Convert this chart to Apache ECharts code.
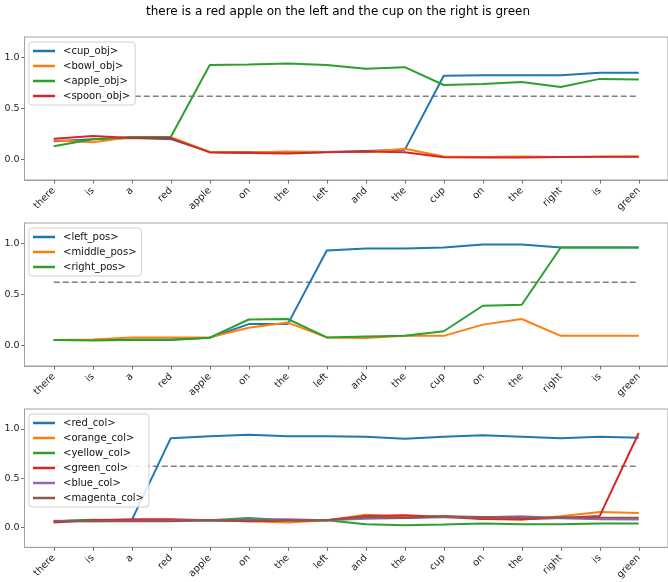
<!DOCTYPE html>
<html>
<head>
<meta charset="utf-8">
<script src="https://cdn.jsdelivr.net/npm/echarts@6/dist/echarts.min.js"></script>
<style>html,body{margin:0;padding:0;background:#fff;}#c{width:668px;height:582px;}</style>
</head>
<body>
<div id="c"></div>
<script>
const titleText = 'there is a red apple on the left and the cup on the right is green';
const words = ['there','is','a','red','apple','on','the','left','and','the','cup','on','the','right','is','green'];
const yTicks = [0, 0.5, 1.0];
const threshold = 0.62;

const cupObj   = [0.18,0.20,0.21,0.20,0.075,0.075,0.065,0.075,0.085,0.095,0.82,0.825,0.825,0.825,0.85,0.85];
const bowlObj  = [0.19,0.17,0.22,0.22,0.075,0.07,0.08,0.075,0.075,0.105,0.03,0.025,0.03,0.025,0.028,0.03];
const appleObj = [0.13,0.20,0.22,0.22,0.925,0.93,0.94,0.925,0.89,0.905,0.73,0.74,0.76,0.71,0.79,0.785];
const spoonObj = [0.205,0.23,0.21,0.21,0.07,0.065,0.06,0.072,0.08,0.072,0.022,0.02,0.02,0.025,0.027,0.027];

const leftPos   = [0.055,0.055,0.06,0.06,0.077,0.21,0.21,0.93,0.95,0.95,0.96,0.99,0.99,0.96,0.96,0.96];
const middlePos = [0.055,0.06,0.08,0.08,0.08,0.175,0.225,0.08,0.075,0.095,0.095,0.205,0.26,0.095,0.095,0.095];
const rightPos  = [0.055,0.05,0.055,0.055,0.077,0.255,0.26,0.08,0.09,0.095,0.14,0.39,0.40,0.96,0.96,0.96];

const redCol     = [0.065,0.075,0.075,0.905,0.925,0.94,0.925,0.925,0.92,0.90,0.92,0.935,0.92,0.905,0.92,0.91];
const orangeCol  = [0.065,0.075,0.075,0.075,0.075,0.065,0.052,0.075,0.13,0.108,0.118,0.09,0.08,0.115,0.157,0.147];
const yellowCol  = [0.065,0.08,0.075,0.075,0.075,0.098,0.075,0.075,0.033,0.023,0.03,0.042,0.033,0.033,0.042,0.042];
const greenCol   = [0.052,0.075,0.085,0.085,0.075,0.065,0.072,0.075,0.118,0.124,0.108,0.088,0.085,0.098,0.118,0.957];
const blueCol    = [0.069,0.065,0.069,0.069,0.075,0.082,0.085,0.075,0.09,0.098,0.105,0.105,0.115,0.095,0.085,0.082];
const magentaCol = [0.065,0.065,0.065,0.065,0.075,0.072,0.075,0.075,0.108,0.098,0.115,0.108,0.098,0.105,0.1,0.1];

const panels = [
  { names: ['<cup_obj>','<bowl_obj>','<apple_obj>','<spoon_obj>'], data: [cupObj, bowlObj, appleObj, spoonObj] },
  { names: ['<left_pos>','<middle_pos>','<right_pos>'], data: [leftPos, middlePos, rightPos] },
  { names: ['<red_col>','<orange_col>','<yellow_col>','<green_col>','<blue_col>','<magenta_col>'],
    data: [redCol, orangeCol, yellowCol, greenCol, blueCol, magentaCol] }
];
const palette = ['#1f77b4','#ff7f0e','#2ca02c','#d62728','#9467bd','#8c564b'];

const FONT = 'DejaVu Sans';
const gridTops = [37, 223, 409];
const gridH = 143;
const gridLeft = 24.5;
const gridW = 647.5;
const xIdx = words.map((w, i) => i);

const grids = [], xAxes = [], yAxes = [], series = [], legends = [];
panels.forEach((p, k) => {
  grids.push({ left: gridLeft, top: gridTops[k], width: gridW, height: gridH,
    show: true, borderColor: '#a0a0a0', borderWidth: 1, backgroundColor: 'transparent', containLabel: false });
  xAxes.push({ type: 'value', gridIndex: k, min: -0.75, max: 15.75,
    splitLine: { show: false },
    axisLine: { show: true, onZero: false, lineStyle: { color: '#a0a0a0', width: 1 } },
    axisTick: { show: true, customValues: xIdx, length: 3.5, lineStyle: { color: '#707070' } },
    axisLabel: { customValues: xIdx, rotate: 45, margin: 9, fontFamily: FONT, fontSize: 9.8, color: '#222',
      formatter: v => words[Math.round(v)] } });
  yAxes.push({ type: 'value', gridIndex: k, min: -0.2, max: 1.2,
    splitLine: { show: false },
    axisLine: { show: true, onZero: false, lineStyle: { color: '#a0a0a0', width: 1 } },
    axisTick: { show: true, customValues: yTicks, length: 3.5, lineStyle: { color: '#707070' } },
    axisLabel: { customValues: yTicks, margin: 5, fontFamily: FONT, fontSize: 9.5, color: '#222',
      formatter: v => v.toFixed(1) } });
  p.names.forEach((nm, j) => {
    series.push({ type: 'line', name: nm, xAxisIndex: k, yAxisIndex: k,
      data: p.data[j].map((v, i) => [i, v]),
      symbol: 'none', silent: true,
      lineStyle: { color: palette[j], width: 2 }, itemStyle: { color: palette[j] } });
  });
  series.push({ type: 'line', name: 'thr' + k, xAxisIndex: k, yAxisIndex: k,
    data: [[0, threshold], [words.length - 1, threshold]], symbol: 'none', silent: true, z: 1,
    lineStyle: { color: '#808080', width: 1.6, type: [6, 3] } });
  legends.push({ data: p.names, orient: 'vertical', left: 29, top: gridTops[k] + 5,
    icon: 'rect', itemWidth: 22, itemHeight: 2.5, itemGap: 3,
    padding: [3, 5, 3, 4], backgroundColor: 'rgba(255,255,255,0.85)',
    borderColor: '#d0d0d0', borderWidth: 1, borderRadius: 3,
    selectedMode: false,
    textStyle: { fontFamily: FONT, fontSize: 10, color: '#111', lineHeight: 12, padding: [0, 0, 0, 3] } });
});

const chart = echarts.init(document.getElementById('c'), null, { renderer: 'canvas' });
chart.setOption({
  animation: false,
  backgroundColor: '#fff',
  title: { text: titleText, left: 338, top: 6, padding: 0, textAlign: 'center',
    textStyle: { fontFamily: FONT, fontSize: 12, fontWeight: 'normal', color: '#000' } },
  grid: grids, xAxis: xAxes, yAxis: yAxes, legend: legends, series: series
});
</script>
</body>
</html>
